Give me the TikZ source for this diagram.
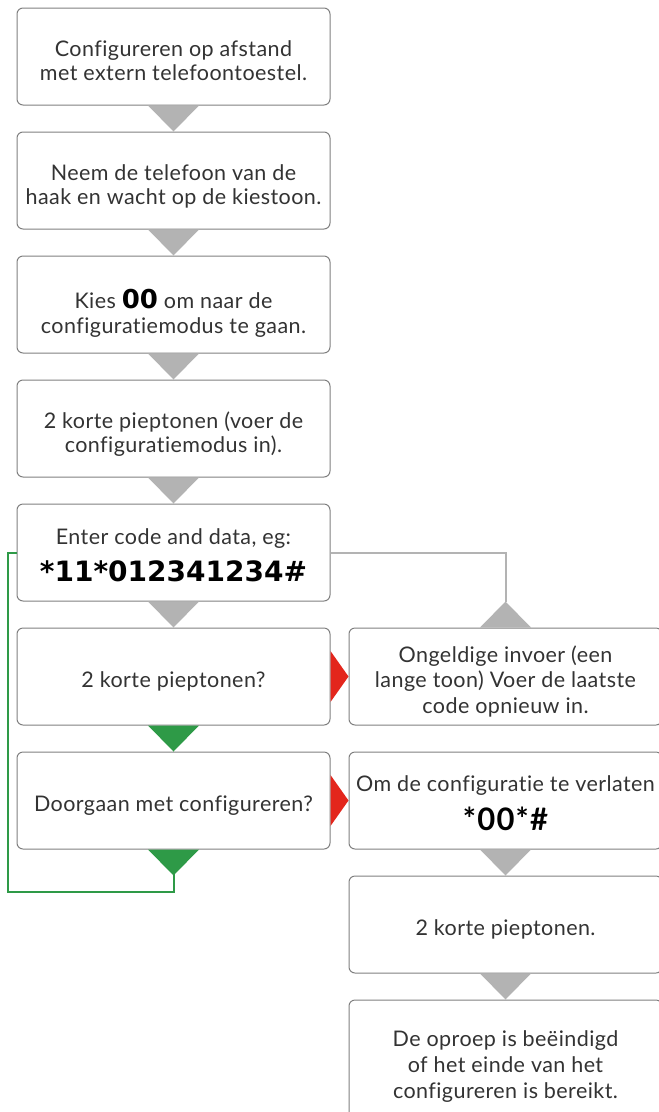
\documentclass[tikz,border=0pt]{standalone}
\usepackage{fontspec}
\setmainfont{Lato}[Ligatures=NoCommon, LetterSpace=2]
\newfontfamily\codefont{DejaVu Sans}
\newfontfamily\latob{Lato}[Ligatures=NoCommon, LetterSpace=4]
\usetikzlibrary{calc}
\definecolor{boxline}{HTML}{808080}
\definecolor{txt}{HTML}{333333}
\definecolor{tri}{HTML}{B3B3B3}
\definecolor{grn}{HTML}{2E9A47}
\definecolor{rd}{HTML}{E3261C}
\tikzset{
  box/.style={draw=boxline, line width=1pt, rounded corners=6pt, fill=white,
    minimum width=313pt, minimum height=97pt, inner sep=0pt},
  lbl/.style={anchor=base, inner sep=0pt, text=txt, font=\fontsize{21.5}{25}\selectfont},
  grayline/.style={draw=tri, line width=2pt},
  greenline/.style={draw=grn, line width=2pt},
}
\newcommand{\bigcode}[1]{{\codefont\bfseries\color{black}\fontsize{28}{34}\selectfont #1}}
\begin{document}
\begin{tikzpicture}[x=1pt,y=-1pt]
\useasboundingbox (0,0) rectangle (659,1112);
\clip (0,0) rectangle (659,1112);
% left column boxes
\node[box] (b1) at (173.5,56.5) {};
\node[box] (b2) at (173.5,180.5) {};
\node[box] (b3) at (173.5,304.5) {};
\node[box] (b4) at (173.5,428.5) {};
\node[box] (b5) at (173.5,552.5) {};
\node[box] (b6) at (173.5,676.5) {};
\node[box] (b7) at (173.5,800.5) {};
% right column boxes
\node[box] (r1) at (505.5,676.5) {};
\node[box] (r2) at (505.5,800.5) {};
\node[box] (r3) at (505.5,924.5) {};
\node[box, minimum height=134pt] (r4) at (505.5,1067) {};
% texts
\node[lbl] (t1a) at (173.5,56) {Configureren op afstand};
\node[lbl] (t1b) at (173.5,80) {met extern telefoontoestel.};
\node[lbl] (t2a) at (173.5,180) {Neem de telefoon van de};
\node[lbl] (t2b) at (173.5,204) {haak en wacht op de kiestoon.};
\node[lbl] (t3a) at (173.5,308) {Kies {\color{black}\codefont\bfseries\fontsize{26}{26}\selectfont 00} om naar de};
\node[lbl] (t3b) at (173.5,333) {configuratiemodus te gaan.};
\node[lbl] (t4a) at (173.5,428) {2 korte pieptonen (voer de};
\node[lbl] (t4b) at (173.5,452) {configuratiemodus in).};
\node[lbl] (t5a) at (173.5,544) {Enter code and data, eg:};
\node[lbl] (t5b) at (173.5,581.5) {\bigcode{*11*012341234\#}};
\node[lbl] (t6) at (173.5,687) {2 korte pieptonen?};
\node[lbl] (t7) at (173.5,811) {Doorgaan met configureren?};
\node[lbl] (u1a) at (505.5,662) {Ongeldige invoer (een};
\node[lbl] (u1b) at (505.5,687.5) {lange toon) Voer de laatste};
\node[lbl] (u1c) at (505.5,713) {code opnieuw in.};
\node[lbl] (u2a) at (505.5,791.5) {Om de configuratie te verlaten};
\node[lbl] (u2b) at (505.5,830) {{\color{black}\latob\bfseries\fontsize{31}{32}\selectfont *00*\#}};
\node[lbl] (u3) at (505.5,935) {2 korte pieptonen.};
\node[lbl] (u4a) at (505.5,1046.5) {De oproep is beëindigd};
\node[lbl] (u4b) at (505.5,1072.5) {of het einde van het};
\node[lbl] (u4c) at (505.5,1098) {configureren is bereikt.};
% connectors
\coordinate (gapex) at ($(r1.north)+(0,-26)$);
\draw[grayline] (b5.east) -- (gapex |- b5.east) -- (gapex);
\coordinate (loopA) at ($(b7.south)+(0,42)$);
\coordinate (loopB) at (8,891);
\draw[greenline] (b7.south) -- (loopA) -- (loopA -| loopB) -- (loopB |- b5.west) -- (b5.west);
% gray triangles
\foreach \a/\b in {b1/b2,b2/b3,b3/b4,b4/b5,b5/b6,r2/r3,r3/r4}{
  \fill[tri] ($(\a.south)+(-25.5,0)$) -- ($(\a.south)+(25.5,0)$) -- (\b.north) -- cycle;
}
\fill[tri] ($(r1.north)+(-25.5,0)$) -- ($(r1.north)+(25.5,0)$) -- (gapex) -- cycle;
% green triangles
\fill[grn] ($(b6.south)+(-25.5,0)$) -- ($(b6.south)+(25.5,0)$) -- (b7.north) -- cycle;
\fill[grn] ($(b7.south)+(-25.5,0)$) -- ($(b7.south)+(25.5,0)$) -- ($(b7.south)+(0,26)$) -- cycle;
% red triangles
\fill[rd] ($(b6.east)+(0,-25.5)$) -- ($(b6.east)+(0,25.5)$) -- (r1.west) -- cycle;
\fill[rd] ($(b7.east)+(0,-25.5)$) -- ($(b7.east)+(0,25.5)$) -- (r2.west) -- cycle;
\end{tikzpicture}
\end{document}
